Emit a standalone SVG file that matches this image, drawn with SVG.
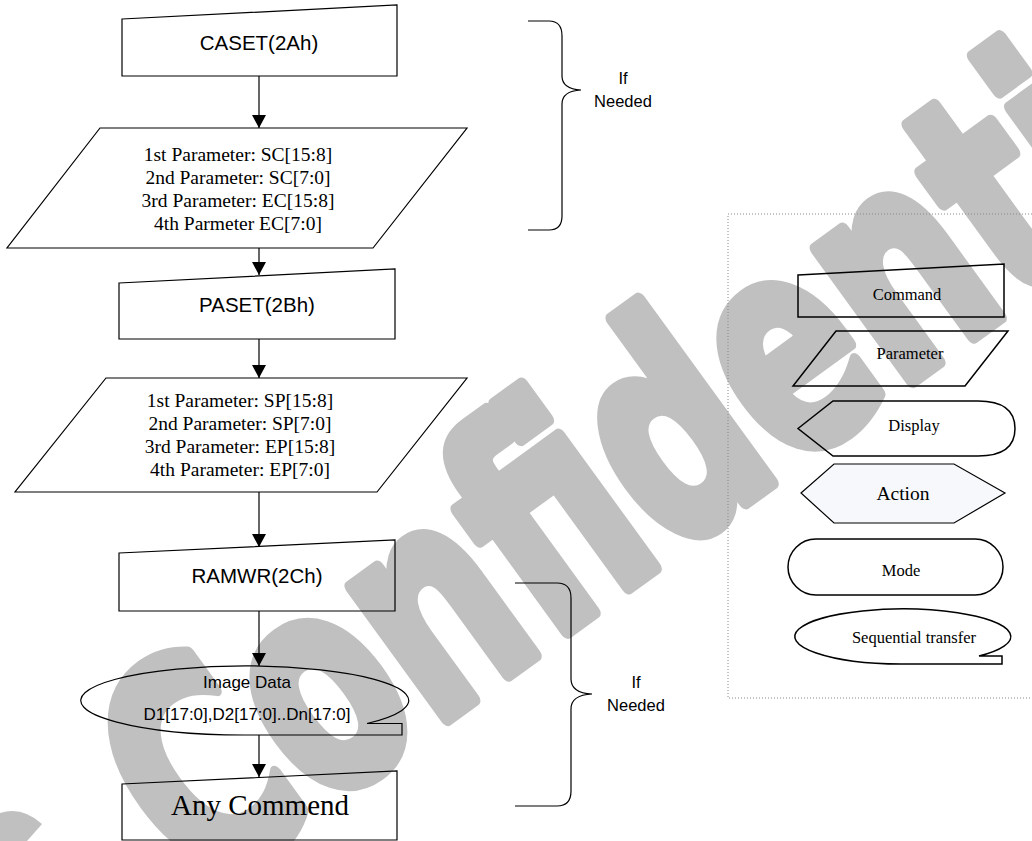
<svg xmlns="http://www.w3.org/2000/svg" width="1032" height="841" viewBox="0 0 1032 841">
<style>
.sh{fill:none;stroke:#000;stroke-width:1.2}
.lg{fill:none;stroke:#000;stroke-width:1.5}
.ar{font-family:"Liberation Sans",Arial,sans-serif;fill:#000;text-anchor:middle}
.tm{font-family:"Liberation Serif","Times New Roman",serif;fill:#000;text-anchor:middle}
.cn{stroke:#000;stroke-width:1.2;fill:none;marker-end:url(#ah)}
.br{fill:none;stroke:#000;stroke-width:1.2}
.wm{font-family:"DejaVu Sans",sans-serif;font-weight:bold;fill:#c0c0c0;stroke:#c0c0c0;stroke-width:10;stroke-linejoin:round}
</style>
<defs>
<marker id="ah" viewBox="0 0 13 14" refX="13" refY="7" markerWidth="13" markerHeight="14" markerUnits="userSpaceOnUse" orient="auto">
<path d="M0,0 L13,7 L0,14 z" fill="#000"/>
</marker>
</defs>
<rect width="1032" height="841" fill="#fff"/>
<g id="watermark">
<text class="wm" font-size="198" transform="translate(200,898) rotate(-36) scale(1.02,1.5)">Confidential</text>
<path d="M0,841 L0,813 Q22,806 42,824 L27,841 Z" fill="#c0c0c0"/>
</g>
<g id="legend-frame">
<rect x="728" y="214" width="320" height="484" fill="none" stroke="#888" stroke-width="1" stroke-dasharray="1,2"/>
</g>
<g id="caset">
<path class="sh" d="M122,19 L397,5 L397,76 L122,76 Z"/>
<text class="ar" x="259" y="50" font-size="20.5">CASET(2Ah)</text>
</g>
<g id="caset-params">
<path class="sh" d="M100,128 L467,128 L373,248 L7,248 Z"/>
<text class="tm" font-size="19.5" x="238" y="161">1st Parameter: SC[15:8]</text>
<text class="tm" font-size="19.5" x="238" y="184">2nd Parameter: SC[7:0]</text>
<text class="tm" font-size="19.5" x="238" y="207">3rd Parameter: EC[15:8]</text>
<text class="tm" font-size="19.5" x="238" y="230">4th Parmeter EC[7:0]</text>
</g>
<g id="paset">
<path class="sh" d="M119,283 L395,269 L395,339 L119,339 Z"/>
<text class="ar" x="257" y="312" font-size="20.5">PASET(2Bh)</text>
</g>
<g id="paset-params">
<path class="sh" d="M106,378 L467,378 L377,492 L15,492 Z"/>
<text class="tm" font-size="19.5" x="240" y="407">1st Parameter: SP[15:8]</text>
<text class="tm" font-size="19.5" x="240" y="430">2nd Parameter: SP[7:0]</text>
<text class="tm" font-size="19.5" x="240" y="453">3rd Parameter: EP[15:8]</text>
<text class="tm" font-size="19.5" x="240" y="476">4th Parameter: EP[7:0]</text>
</g>
<g id="ramwr">
<path class="sh" d="M119,553 L395,540 L395,611 L119,611 Z"/>
<text class="ar" x="257" y="583" font-size="20.5">RAMWR(2Ch)</text>
</g>
<g id="image-data">
<path class="sh" d="M247,735 A164,34.5 0 1 1 367,723.5 L402,723.5 L402,735 Z"/>
<text class="ar" x="247" y="688" font-size="17">Image Data</text>
<text class="ar" x="247" y="720" font-size="17">D1[17:0],D2[17:0]..Dn[17:0]</text>
</g>
<g id="any-commend">
<path class="sh" d="M122,784 L397,771 L397,840 L122,840 Z"/>
<text class="tm" x="260" y="815" font-size="29">Any Commend</text>
</g>
<g id="connectors">
<line class="cn" x1="259" y1="76" x2="259" y2="128"/>
<line class="cn" x1="259" y1="248" x2="259" y2="275"/>
<line class="cn" x1="259" y1="339" x2="259" y2="378"/>
<line class="cn" x1="259" y1="492" x2="259" y2="547"/>
<line class="cn" x1="259" y1="611" x2="259" y2="666"/>
<line class="cn" x1="259" y1="735" x2="259" y2="777"/>
</g>
<g id="brace-top">
<path class="br" d="M528,21 L549,21 Q562,21 562,36 L562,76 Q562,89 581,90 Q562,91 562,104 L562,216 Q562,230 549,230 L528,230"/>
<text class="ar" x="623" y="84" font-size="16.5">If</text>
<text class="ar" x="623" y="107" font-size="16.5">Needed</text>
</g>
<g id="brace-bottom">
<path class="br" d="M515,583 L557,583 Q571,583 571,598 L571,679 Q571,693 592,694 Q571,695 571,709 L571,791 Q571,806 557,806 L515,806"/>
<text class="ar" x="636" y="688" font-size="16.5">If</text>
<text class="ar" x="636" y="711" font-size="16.5">Needed</text>
</g>
<g id="legend-command">
<path class="lg" d="M798,275 L1004,264 L1004,317 L798,317 Z"/>
<text class="tm" x="907" y="300" font-size="16.5">Command</text>
</g>
<g id="legend-parameter">
<path class="lg" d="M836,331 L1008,331 L965,386 L793,386 Z"/>
<text class="tm" x="910" y="359" font-size="16.5">Parameter</text>
</g>
<g id="legend-display">
<path class="lg" d="M798,428.5 L833,401 L978,401 Q1015,401 1015,428.5 Q1015,456 978,456 L833,456 Z"/>
<text class="tm" x="914" y="431" font-size="16.5">Display</text>
</g>
<g id="legend-action">
<path d="M801,493 L834,464 L954,464 L1005,493 L954,523 L834,523 Z" fill="#f6f8fc" stroke="#000" stroke-width="1.2"/>
<text class="tm" x="903" y="500" font-size="19.5">Action</text>
</g>
<g id="legend-mode">
<rect class="lg" x="788" y="539" width="215" height="56" rx="28" ry="28"/>
<text class="tm" x="901" y="576" font-size="16.5">Mode</text>
</g>
<g id="legend-sequential">
<path class="lg" d="M901,664 A108,27.5 0 1 1 979,656 L1002,656 L1002,664 Z"/>
<text class="tm" x="914" y="643" font-size="16.5">Sequential transfer</text>
</g>
</svg>
